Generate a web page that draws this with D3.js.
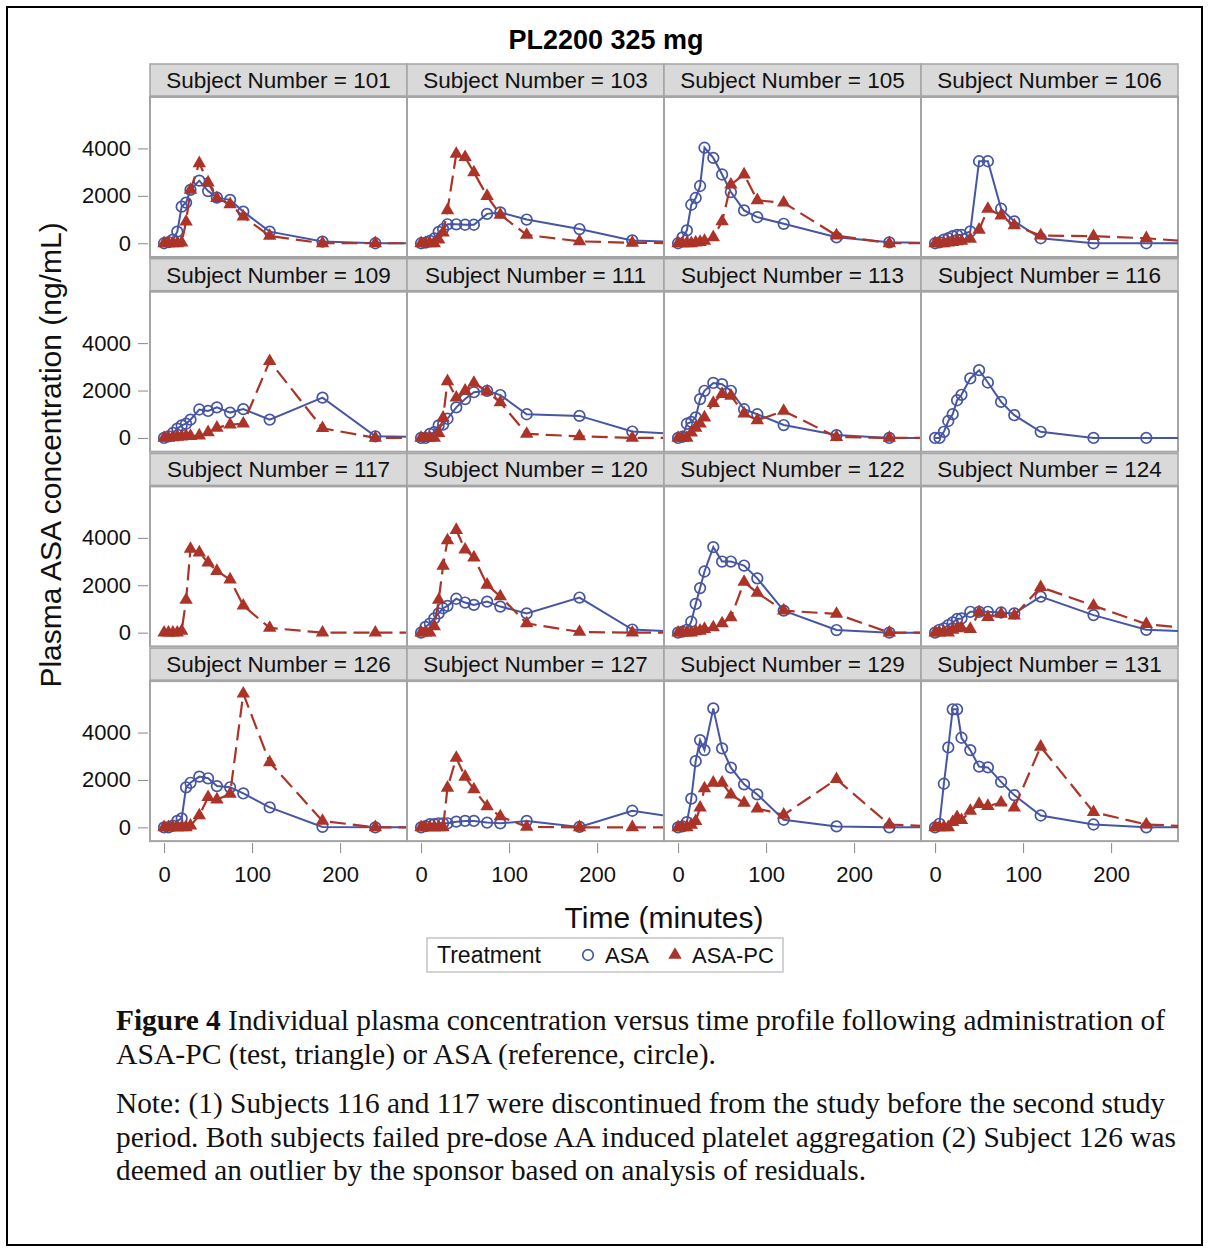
<!DOCTYPE html>
<html>
<head>
<meta charset="utf-8">
<script src="https://cdn.jsdelivr.net/npm/d3@7"></script>
<style>
  body { margin: 0; background: #fff; }
  text { font-family: "Liberation Sans", Arial, sans-serif; }
</style>
</head>
<body>
<div id="chart"></div>
<script>
// sampling times (minutes); the 300 min sample lies outside the shown range and is clipped
const times = [0, 5, 10, 15, 20, 25, 30, 40, 50, 60, 75, 90, 120, 180, 240, 300];
const subjects = [101, 103, 105, 106, 109, 111, 113, 116, 117, 120, 122, 124, 126, 127, 129, 131];

// ASA (reference, circle)
const asa101 = [0, 50, 150, 490, 1545, 1715, 2250, 2640, 2200, 1925, 1830, 1335, 490, 70, 0, 0];
const asa103 = [0, 30, 100, 200, 480, 600, 800, 800, 780, 780, 1240, 1300, 1000, 600, 120, 50];
const asa105 = [0, 250, 540, 1625, 1910, 2416, 4030, 3600, 2900, 2160, 1385, 1100, 820, 250, 40, 0];
const asa106 = [0, 40, 150, 210, 300, 350, 350, 500, 3460, 3460, 1455, 920, 210, 0, 0, 0];
const asa109 = [0, 70, 210, 390, 530, 600, 770, 1200, 1140, 1290, 1070, 1215, 770, 1700, 70, 30];
const asa111 = [0, 0, 170, 240, 530, 560, 810, 1290, 1640, 1930, 1990, 1810, 1000, 930, 270, 150];
const asa113 = [0, 50, 600, 680, 870, 1640, 1990, 2320, 2270, 1990, 1210, 1000, 545, 120, 0, 0];
const asa116 = [0, 0, 260, 715, 1000, 1590, 1820, 2510, 2860, 2340, 1520, 960, 260, 0, 0, 0];
const asa117 = null;
const asa120 = [0, 240, 385, 600, 810, 1030, 1130, 1430, 1270, 1170, 1310, 1100, 810, 1480, 130, 30];
const asa122 = [0, 40, 120, 460, 1210, 1880, 2580, 3610, 3000, 3000, 2830, 2290, 930, 110, 0, 0];
const asa124 = [0, 120, 180, 320, 430, 575, 600, 880, 880, 880, 850, 810, 1520, 740, 120, 40];
const asa126 = [0, 0, 70, 270, 380, 1690, 1880, 2140, 2070, 1740, 1690, 1430, 840, 20, 0, 0];
const asa127 = [0, 50, 130, 130, 170, 170, 170, 240, 270, 270, 200, 170, 270, 20, 700, 370];
const asa129 = [0, 40, 220, 1210, 2790, 3680, 3260, 5020, 3330, 2520, 1815, 1390, 320, 40, 0, 0];
const asa131 = [0, 150, 1840, 3370, 4980, 4980, 3780, 3260, 2560, 2530, 1920, 1360, 500, 120, 0, 0];

// ASA-PC (test, triangle)
const pc101 = [0, 0, 0, 0, 30, 910, 2250, 3375, 2560, 1900, 1645, 1120, 310, 0, 0, 0];
const pc103 = [0, 0, 0, 0, 150, 450, 1390, 3770, 3630, 2990, 1990, 1200, 350, 80, 20, 0];
const pc105 = [0, 0, 0, 0, 30, 50, 100, 250, 920, 2470, 2900, 1810, 1710, 325, 0, 0];
const pc106 = [0, 0, 0, 30, 50, 80, 100, 180, 565, 1450, 1170, 750, 325, 300, 210, 50];
const pc109 = [0, 0, 20, 50, 60, 80, 80, 100, 240, 430, 560, 600, 3240, 410, 0, 0];
const pc111 = [0, 0, 0, 0, 200, 850, 2390, 1700, 1990, 2320, 1960, 1500, 170, 70, 0, 0];
const pc113 = [0, 0, 0, 220, 430, 600, 860, 1470, 1850, 1780, 1030, 745, 1140, 40, 0, 0];
const pc116 = null;
const pc117 = [0, 0, 0, 0, 70, 1380, 3530, 3380, 2950, 2600, 2240, 1140, 200, 0, 0, 0];
const pc120 = [0, 0, 0, 270, 1380, 2820, 3890, 4330, 3500, 3170, 2020, 1530, 390, 30, 0, 0];
const pc122 = [0, 0, 0, 0, 50, 80, 150, 220, 390, 640, 2140, 1680, 930, 790, 0, 0];
const pc124 = [0, 0, 20, 0, 120, 180, 200, 150, 860, 650, 790, 720, 1920, 1140, 360, 150];
const pc126 = [0, 0, 0, 0, 0, 0, 70, 500, 1270, 1170, 1410, 5640, 2740, 270, 0, 0];
const pc127 = [0, 0, 0, 0, 0, 0, 1670, 2930, 2130, 1600, 880, 460, 20, 0, 0, 0];
const pc129 = [0, 0, 0, 100, 260, 830, 1640, 1880, 1880, 1380, 1030, 790, 530, 2030, 120, 20];
const pc131 = [0, 0, 0, 0, 220, 430, 300, 690, 980, 900, 1040, 830, 3400, 640, 120, 30];

const asaSeries = [asa101, asa103, asa105, asa106, asa109, asa111, asa113, asa116,
                   asa117, asa120, asa122, asa124, asa126, asa127, asa129, asa131];
const pcSeries = [pc101, pc103, pc105, pc106, pc109, pc111, pc113, pc116,
                  pc117, pc120, pc122, pc124, pc126, pc127, pc129, pc131];

const xTicks = [0, 100, 200];
const yTicks = [0, 2000, 4000];

const captionLines = [
  ['Figure 4', ' Individual plasma concentration versus time profile following administration of'],
  ['', 'ASA-PC (test, triangle) or ASA (reference, circle).'],
  ['', 'Note: (1) Subjects 116 and 117 were discontinued from the study before the second study'],
  ['', 'period. Both subjects failed pre-dose AA induced platelet aggregation (2) Subject 126 was'],
  ['', 'deemed an outlier by the sponsor based on analysis of residuals.']
];

const Chart = function(){
  const W = 1209, H = 1252,
        PL = 150, PW = 257, TOP = 64, RH = 194.7, HH = 32, PH = 160,
        BLUE = '#4656a4', RED = '#ab3327', GRID = '#a4a4a4';

  const draw = () => {
    const svg = d3.select('#chart')
      .append('svg')
      .attr('width', W)
      .attr('height', H);

    svg.append('rect')
      .attr('x', 7).attr('y', 7)
      .attr('width', 1195).attr('height', 1238)
      .attr('fill', 'none').attr('stroke', '#000').attr('stroke-width', 2);

    svg.append('clipPath').attr('id', 'clip')
      .append('rect').attr('width', PW).attr('height', PH);

    const x = d3.scaleLinear().domain([-16, 276]).range([0, PW]);
    const y = d3.scaleLinear().domain([-580, 6170]).range([PH, 0]);

    svg.append('text')
      .attr('x', 606).attr('y', 49)
      .attr('text-anchor', 'middle')
      .style('font-size', '27px').style('font-weight', 'bold')
      .text('PL2200 325 mg');

    const line = d3.line()
      .x(d => x(d[0]))
      .y(d => y(d[1]));

    subjects.forEach((s, i) => {
      const col = i % 4, row = Math.floor(i / 4);
      const g = svg.append('g')
        .attr('transform', `translate(${PL + col * PW},${TOP + row * RH})`);

      g.append('rect')
        .attr('width', PW).attr('height', HH)
        .attr('fill', '#d9d9d9').attr('stroke', GRID).attr('stroke-width', 1.5);
      g.append('text')
        .attr('x', PW / 2).attr('y', HH / 2 + 8)
        .attr('text-anchor', 'middle')
        .style('font-size', '22.5px').style('fill', '#111')
        .text(`Subject Number = ${s}`);

      const p = g.append('g').attr('transform', `translate(0,${HH + 1})`);
      p.append('rect')
        .attr('width', PW).attr('height', PH)
        .attr('fill', '#fff').attr('stroke', GRID).attr('stroke-width', 2);

      const inner = p.append('g').attr('clip-path', 'url(#clip)');

      const asa = asaSeries[i], pc = pcSeries[i];
      if (asa) {
        const pts = times.map((t, k) => [t, asa[k]]);
        inner.append('path').datum(pts)
          .attr('d', line).attr('fill', 'none')
          .attr('stroke', BLUE).attr('stroke-width', 2);
        inner.selectAll('circle.asa')
          .data(pts.filter(d => d[0] <= 276))
          .enter().append('circle')
          .attr('class', 'asa')
          .attr('cx', d => x(d[0])).attr('cy', d => y(d[1]))
          .attr('r', 5.3)
          .attr('fill', 'none').attr('stroke', BLUE).attr('stroke-width', 1.7);
      }
      if (pc) {
        const pts = times.map((t, k) => [t, pc[k]]);
        inner.append('path').datum(pts)
          .attr('d', line).attr('fill', 'none')
          .attr('stroke', RED).attr('stroke-width', 2.2)
          .attr('stroke-dasharray', '16,7');
        inner.selectAll('path.pc')
          .data(pts.filter(d => d[0] <= 276))
          .enter().append('path')
          .attr('class', 'pc')
          .attr('d', d3.symbol(d3.symbolTriangle, 78))
          .attr('transform', d => `translate(${x(d[0])},${y(d[1])})`)
          .attr('fill', RED);
      }

      if (col === 0) {
        const ya = p.append('g')
          .attr('transform', 'translate(-2,0)')
          .call(d3.axisLeft(y).tickValues(yTicks).tickFormat(d3.format('d')).tickSize(10).tickPadding(7));
        ya.select('.domain').remove();
        ya.selectAll('line').attr('stroke', '#888');
        ya.selectAll('text').style('font-size', '22px').style('font-family', '"Liberation Sans", Arial, sans-serif').attr('fill', '#111');
      }
      if (row === 3) {
        const xa = p.append('g')
          .attr('transform', `translate(0,${PH + 2})`)
          .call(d3.axisBottom(x).tickValues(xTicks).tickFormat(d3.format('d')).tickSize(10).tickPadding(13));
        xa.select('.domain').remove();
        xa.selectAll('line').attr('stroke', '#888');
        xa.selectAll('text').style('font-size', '22px').style('font-family', '"Liberation Sans", Arial, sans-serif').attr('fill', '#111');
      }
    });

    // axis titles
    svg.append('text')
      .attr('x', 664).attr('y', 928)
      .attr('text-anchor', 'middle')
      .style('font-size', '30px').style('fill', '#111')
      .text('Time (minutes)');

    svg.append('text')
      .attr('transform', 'translate(61,455) rotate(-90)')
      .attr('text-anchor', 'middle')
      .style('font-size', '30px').style('fill', '#111')
      .text('Plasma ASA concentration (ng/mL)');

    // legend
    const lg = svg.append('g');
    lg.append('rect')
      .attr('x', 427).attr('y', 938).attr('width', 356).attr('height', 34)
      .attr('fill', '#fff').attr('stroke', '#c4c4c4').attr('stroke-width', 1.5);
    lg.append('text').attr('x', 437).attr('y', 963)
      .style('font-size', '23px').style('fill', '#111').text('Treatment');
    lg.append('circle').attr('cx', 588).attr('cy', 955).attr('r', 5.3)
      .attr('fill', 'none').attr('stroke', BLUE).attr('stroke-width', 1.7);
    lg.append('text').attr('x', 605).attr('y', 963)
      .style('font-size', '22px').style('fill', '#111').text('ASA');
    lg.append('path').attr('d', d3.symbol(d3.symbolTriangle, 78))
      .attr('transform', 'translate(675,955)').attr('fill', RED);
    lg.append('text').attr('x', 692).attr('y', 963)
      .style('font-size', '22px').style('fill', '#111').text('ASA-PC');

    // caption
    const capY = [1030, 1064, 1113, 1147, 1180];
    const capW = [1049, 600, 1049, 1060, 750];
    captionLines.forEach((ln, k) => {
      const t = svg.append('text')
        .attr('x', 116).attr('y', capY[k])
        .attr('textLength', capW[k]).attr('lengthAdjust', 'spacingAndGlyphs')
        .style('font-family', '"Liberation Serif", "Times New Roman", serif')
        .style('font-size', '28.5px').style('fill', '#111');
      if (ln[0]) t.append('tspan').style('font-weight', 'bold').text(ln[0]);
      t.append('tspan').text(ln[1]);
    });
  };

  return { draw: draw };
}();
document.addEventListener('DOMContentLoaded', Chart.draw);
</script>
</body>
</html>
